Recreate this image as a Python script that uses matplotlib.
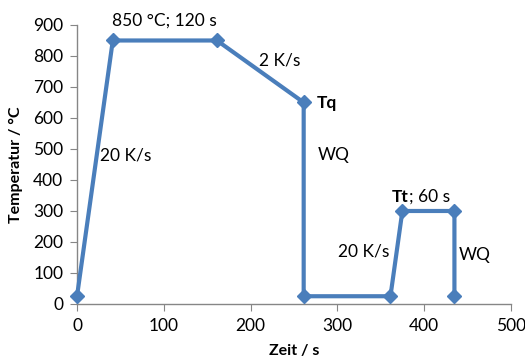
import matplotlib
matplotlib.use("Agg")
import matplotlib.pyplot as plt

time_s = [0, 41.25, 161.25, 261.25, 261.25, 361.25, 375, 435, 435]
temp_c = [25, 850, 850, 650, 25, 25, 300, 300, 25]
x_ticks = [0, 100, 200, 300, 400, 500]
y_ticks = [0, 100, 200, 300, 400, 500, 600, 700, 800, 900]

plt.rcParams['font.family'] = ['Lato', 'DejaVu Sans']
fig = plt.figure(figsize=(5.25, 3.6), dpi=100)
ax = fig.add_axes([0.1467, 0.1556, 0.8263, 0.775])
color = '#4a7ebb'
ax.plot(time_s, temp_c, color=color, lw=3, marker='D', markersize=7.5, clip_on=False, zorder=3)
ax.set_xlim(0, 500)
ax.set_ylim(0, 900)
ax.set_xticks(x_ticks)
ax.set_yticks(y_ticks)
for s in ['top', 'right']:
    ax.spines[s].set_visible(False)
for s in ['left', 'bottom']:
    ax.spines[s].set_color('#868686')
    ax.spines[s].set_linewidth(1)
ax.tick_params(axis='both', colors='#868686', labelcolor='black', labelsize=12.5, length=5, direction='out', pad=5)
ax.set_xlabel('Zeit / s', fontsize=11.5, fontweight='bold', labelpad=7)
ax.set_ylabel('Temperatur / °C', fontsize=11.5, fontweight='bold', labelpad=7)

fs = 12.5
ax.text(101, 915, '850 °C; 120 s', fontsize=fs, ha='center', va='center')
ax.text(234, 787, '2 K/s', fontsize=fs, ha='center', va='center')
ax.text(276, 648, 'Tq', fontsize=fs, ha='left', va='center', fontweight='bold')
ax.text(277, 480, 'WQ', fontsize=fs, ha='left', va='center')
ax.text(27, 480, '20 K/s', fontsize=fs, ha='left', va='center')
ax.text(360, 168, '20 K/s', fontsize=fs, ha='right', va='center')
tt = ax.text(363, 345, 'Tt', fontsize=fs, ha='left', va='center', fontweight='bold')
ax.annotate('; 60 s', xycoords=tt, xy=(1, 0.5), fontsize=fs, ha='left', va='center')
ax.text(440, 158, 'WQ', fontsize=fs, ha='left', va='center')

fig.savefig('out.png', dpi=100)
